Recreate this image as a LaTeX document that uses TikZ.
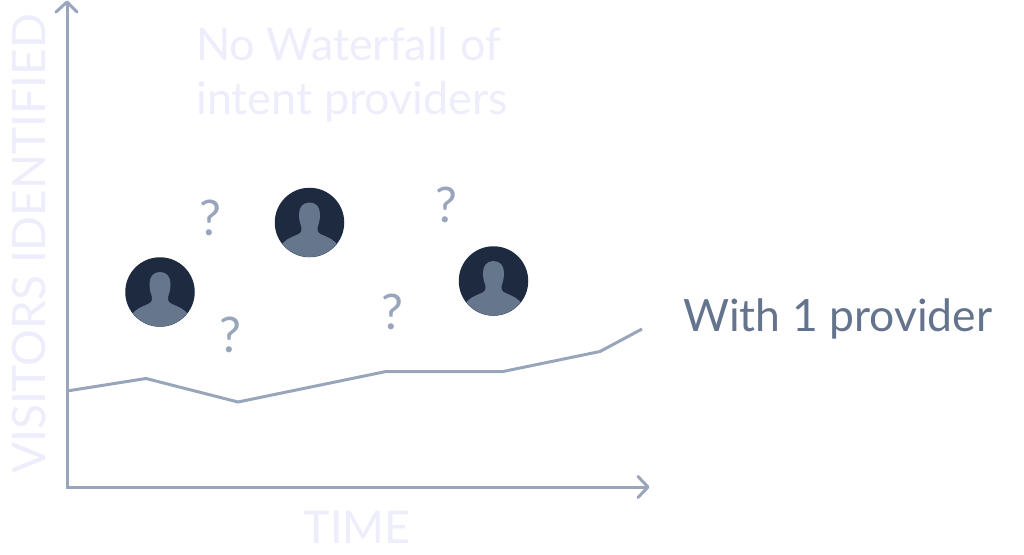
\documentclass[tikz,border=0pt]{standalone}
\usepackage{fontspec}
\setmainfont{Lato}
\definecolor{axis}{HTML}{98A5BB}
\definecolor{faint}{HTML}{EDEDFC}
\definecolor{label}{HTML}{64748D}
\definecolor{dark}{HTML}{1E2A40}
\definecolor{figure}{HTML}{66768C}
\tikzset{
  x=1pt,y=-1pt,
  axisline/.style={draw=axis,line width=3pt},
  axistip/.style={draw=axis,line width=3pt,line cap=round,line join=round},
  trend/.style={draw=axis,line width=3pt,line join=miter},
  faintlabel/.style={text=faint,inner sep=0pt,font=\fontsize{45}{50}\selectfont},
  qmark/.style={text=axis,inner sep=0pt,font=\fontsize{49}{52}\selectfont},
  avatar/.style={circle,fill=dark,minimum size=69.5pt,inner sep=0pt},
}
\newcommand{\avatarfig}[3]{%
  \node[avatar] (#1) at (#2,#3) {};
  \begin{scope}
    \clip (#2,#3) circle[radius=34.5];
    \begin{scope}[shift={(#2,#3)}]
      \fill[figure] (0,-20) .. controls (-7,-20) and (-10.5,-15) .. (-10.5,-8)
        .. controls (-10.5,-2) and (-9,2) .. (-8,5)
        .. controls (-8,9) and (-8,10) .. (-12,12)
        .. controls (-19,15) and (-25,17) .. (-29,24)
        -- (-29,36) -- (29,36) -- (29,24)
        .. controls (25,17) and (19,15) .. (12,12)
        .. controls (8,10) and (8,9) .. (8,5)
        .. controls (9,2) and (10.5,-2) .. (10.5,-8)
        .. controls (10.5,-15) and (7,-20) .. (0,-20) -- cycle;
    \end{scope}
  \end{scope}}
\begin{document}
\begin{tikzpicture}
\useasboundingbox (0,0) rectangle (1024,554);
\coordinate (origin) at (67,487);
\coordinate (ytop) at (67,2);
\coordinate (xend) at (648,487);
\draw[axisline] (ytop) -- (origin) -- (xend);
\draw[axistip] (56,12) -- (ytop) -- (77,12);
\draw[axistip] (638,476.5) -- (xend) -- (638,497.5);
\coordinate (t0) at (67,391);
\coordinate (t1) at (146,378.5);
\coordinate (t2) at (238,402);
\coordinate (t3) at (386,371.5);
\coordinate (t4) at (503,371.5);
\coordinate (t5) at (600,351.5);
\coordinate (t6) at (642,329);
\draw[trend] (t0) -- (t1) -- (t2) -- (t3) -- (t4) -- (t5) -- (t6);
\node[faintlabel,rotate=90,font=\fontsize{46}{50}\selectfont] (ylabel) at (29,244) {VISITORS IDENTIFIED};
\node[faintlabel] (xlabel) at (357,527) {TIME};
\node[faintlabel,anchor=west] (title1) at (196,44) {No Waterfall of};
\node[faintlabel,anchor=west] (title2) at (196,102) {intent providers};
\node[text=label,inner sep=0pt,anchor=west,font=\fontsize{44.5}{50}\selectfont] (provider) at (683,319) {With 1 provider};
\avatarfig{p1}{160}{292}
\avatarfig{p2}{309.5}{222.5}
\avatarfig{p3}{493.5}{281}
\node[qmark] (q1) at (210,218) {?};
\node[qmark] (q2) at (230,335) {?};
\node[qmark] (q3) at (392,312) {?};
\node[qmark] (q4) at (446,205) {?};
\end{tikzpicture}
\end{document}
